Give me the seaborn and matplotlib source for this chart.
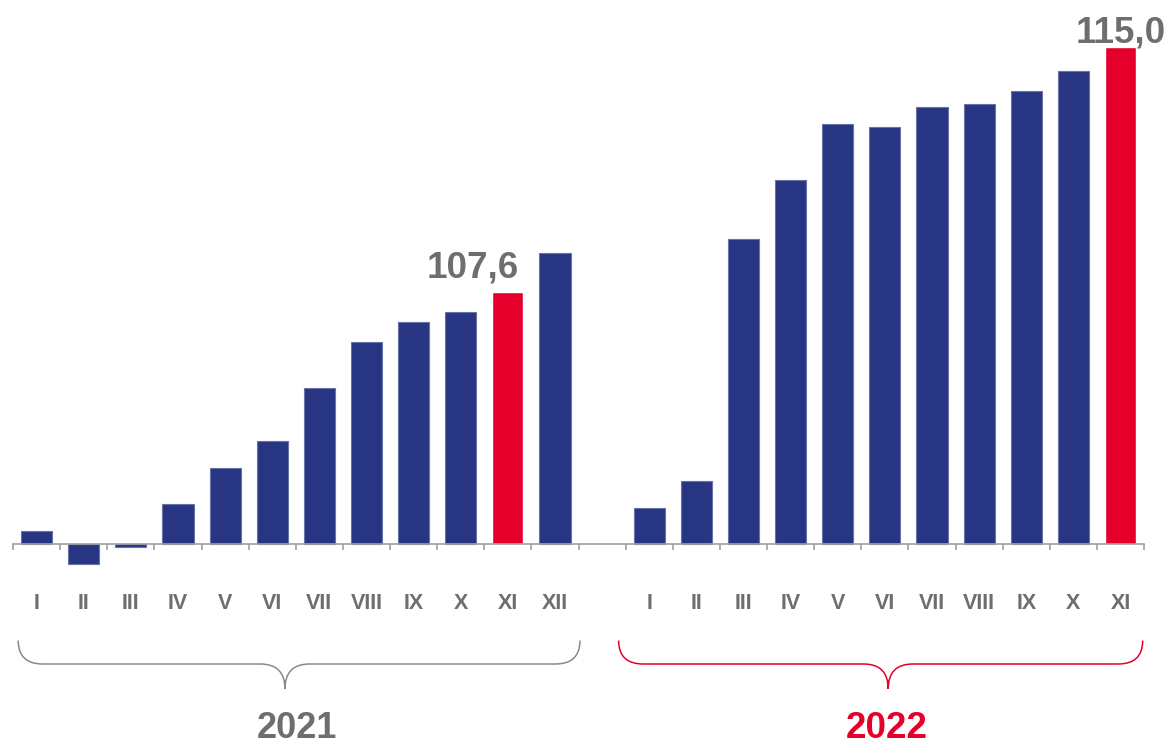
import matplotlib
matplotlib.use("Agg")
import matplotlib.pyplot as plt
import matplotlib.transforms as mtransforms
from matplotlib.path import Path
from matplotlib.patches import PathPatch
import seaborn as sns
import pandas as pd
import numpy as np

# index values, same month of previous year = 100
months_2021 = ["I", "II", "III", "IV", "V", "VI", "VII", "VIII", "IX", "X", "XI", "XII"]
values_2021 = [100.4, 99.4, 99.9, 101.2, 102.3, 103.1, 104.7, 106.1, 106.7, 107.0, 107.6, 108.8]
months_2022 = ["I", "II", "III", "IV", "V", "VI", "VII", "VIII", "IX", "X", "XI"]
values_2022 = [101.1, 101.9, 109.2, 111.0, 112.7, 112.6, 113.2, 113.3, 113.7, 114.3, 115.0]
highlight = {"2021": "XI", "2022": "XI"}
base = 100

NAVY = "#283583"
RED = "#E4002B"
GRAY = "#6e6e6e"
LINE = "#a0a0a0"

rows = []
for year, months, vals in [("2021", months_2021, values_2021), ("2022", months_2022, values_2022)]:
    for m, v in zip(months, vals):
        rows.append({"slot": f"{year} {m}", "month": m, "year": year, "value": v,
                     "dev": v - base, "hl": "red" if m == highlight[year] else "navy"})
df = pd.DataFrame(rows)
order = [f"2021 {m}" for m in months_2021] + ["gap"] + [f"2022 {m}" for m in months_2022]
tick_labels = months_2021 + [""] + months_2022

sns.set_style("white")
plt.rcParams["font.family"] = ["Liberation Sans", "DejaVu Sans"]

fig = plt.figure(figsize=(11.73, 7.48), dpi=100)
ax = fig.add_axes([0, 0, 1, 1])
sns.barplot(data=df, x="slot", y="dev", hue="hl", order=order,
            palette={"navy": NAVY, "red": RED}, width=0.66, dodge=False,
            legend=False, saturation=1, ax=ax)
for p in ax.patches:
    if p.get_facecolor()[2] > 0.4:
        p.set_edgecolor("#6a72aa")
        p.set_linewidth(0.8)

ax.set_xlim(-0.776, 24.113)
ax.set_ylim(-6.163, 16.435)
for s in ["top", "left", "right"]:
    ax.spines[s].set_visible(False)
ax.spines["bottom"].set_position(("data", 0))
ax.spines["bottom"].set_bounds(-0.5, 23.5)
ax.spines["bottom"].set_color(LINE)
ax.spines["bottom"].set_linewidth(1.2)
ax.set_yticks([])
ax.set_xlabel("")
ax.set_ylabel("")
ax.set_xticks(range(len(order)))
ax.set_xticklabels(tick_labels)
ax.set_xticks(np.arange(-0.5, len(order), 1), minor=True)
ax.tick_params(axis="x", which="minor", bottom=True, length=4.3, width=1.2,
               color=LINE, direction="out")
ax.tick_params(axis="x", which="major", bottom=True, length=0, pad=42.5,
               labelsize=15.5, labelcolor=GRAY)
for lbl in ax.get_xticklabels():
    lbl.set_fontweight("bold")
    lbl.set_va("center")

# value labels on highlighted bars
i21 = order.index("2021 " + highlight["2021"])
v21 = df.loc[df.slot == order[i21], "value"].iloc[0]
ax.annotate(f"{v21:.1f}".replace(".", ","), xy=(i21, v21 - base), xytext=(8, 10.4),
            textcoords="offset points", ha="right", va="baseline",
            fontsize=26.5, fontweight="bold", color=GRAY)
i22 = order.index("2022 " + highlight["2022"])
v22 = df.loc[df.slot == order[i22], "value"].iloc[0]
ax.annotate(f"{v22:.1f}".replace(".", ","), xy=(i22, v22 - base), xytext=(0, 3.8),
            textcoords="offset points", ha="center", va="baseline",
            fontsize=26.5, fontweight="bold", color=GRAY)

# curly braces under each year
trans = mtransforms.blended_transform_factory(ax.transData, ax.transAxes)


def brace(x0, x1, xm, color, rx=0.52, y_top=0.1437, y_mid=0.1123, y_tip=0.0789):
    verts = [(x0, y_top), (x0, y_mid), (x0 + rx, y_mid),
             (xm - rx, y_mid), (xm, y_mid), (xm, y_tip),
             (xm, y_mid), (xm + rx, y_mid),
             (x1 - rx, y_mid), (x1, y_mid), (x1, y_top)]
    codes = [Path.MOVETO, Path.CURVE3, Path.CURVE3,
             Path.LINETO, Path.CURVE3, Path.CURVE3,
             Path.CURVE3, Path.CURVE3,
             Path.LINETO, Path.CURVE3, Path.CURVE3]
    ax.add_patch(PathPatch(Path(verts, codes), fill=False, edgecolor=color,
                           lw=1.1, transform=trans, clip_on=False))


brace(-0.39, 11.53, 5.27, "#8a8a8a")
brace(12.35, 23.47, 18.07, RED)
ax.text(5.53, 0.003, "2021", transform=trans, ha="center", va="bottom",
        fontsize=26, fontweight="bold", color=GRAY)
ax.text(18.04, 0.003, "2022", transform=trans, ha="center", va="bottom",
        fontsize=26.5, fontweight="bold", color=RED)

fig.savefig("out.png", dpi=100)
plt.close(fig)
